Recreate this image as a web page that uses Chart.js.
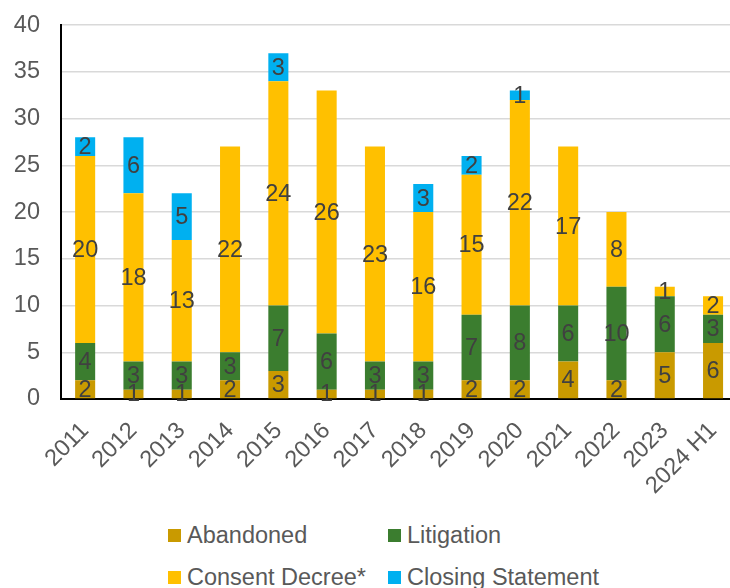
<!DOCTYPE html>
<html>
<head>
<meta charset="utf-8">
<script src="https://cdn.jsdelivr.net/npm/chart.js@4.4.1/dist/chart.umd.min.js"></script>
<style>
  html, body { margin: 0; padding: 0; background: #fff; overflow: hidden; }
  #wrap { position: relative; width: 730px; height: 588px; overflow: hidden; }
  #chart { position: absolute; left: 0; top: -10px; }
  #legend {
    position: absolute; left: 168px; top: 520px;
    display: grid; grid-template-columns: 220px auto; row-gap: 12px;
    font-family: "Liberation Sans", Arial, sans-serif; font-size: 23.5px; color: #595959;
  }
  .item { display: flex; align-items: center; height: 30px; white-space: nowrap; }
  .box { width: 13px; height: 13px; margin-right: 6px; }
</style>
</head>
<body>
<div id="wrap">
  <canvas id="chart" width="751" height="520"></canvas>
  <div id="legend"></div>
</div>
<script>
const years = ['2011', '2012', '2013', '2014', '2015', '2016', '2017', '2018', '2019', '2020', '2021', '2022', '2023', '2024 H1'];
const abandoned = [2, 1, 1, 2, 3, 1, 1, 1, 2, 2, 4, 2, 5, 6];
const litigation = [4, 3, 3, 3, 7, 6, 3, 3, 7, 8, 6, 10, 6, 3];
const consentDecree = [20, 18, 13, 22, 24, 26, 23, 16, 15, 22, 17, 8, 1, 2];
const closingStatement = [2, 6, 5, 0, 3, 0, 0, 3, 2, 1, 0, 0, 0, 0];
const yTicks = [0, 5, 10, 15, 20, 25, 30, 35, 40];

const FONT = '"Liberation Sans", Arial, sans-serif';
const FSIZE = 23.5;

// draws the value in the middle of each segment (skip zeros)
const segmentLabels = {
    id: 'segmentLabels',
    afterDatasetsDraw(chart) {
        const ctx = chart.ctx;
        ctx.save();
        ctx.font = FSIZE + 'px ' + FONT;
        ctx.fillStyle = '#404040';
        ctx.textAlign = 'center';
        ctx.textBaseline = 'middle';
        chart.data.datasets.forEach((ds, i) => {
            const meta = chart.getDatasetMeta(i);
            meta.data.forEach((bar, j) => {
                const v = ds.data[j];
                if (!v) return;
                const p = bar.getProps(['x', 'y', 'base'], true);
                ctx.fillText(String(v), p.x, (p.y + p.base) / 2 + 1);
            });
        });
        ctx.restore();
    }
};

const chart = new Chart(document.getElementById('chart'), {
    type: 'bar',
    data: {
        labels: years,
        datasets: [
            { label: 'Abandoned', data: abandoned, backgroundColor: '#c99a00' },
            { label: 'Litigation', data: litigation, backgroundColor: '#3b7d2f' },
            { label: 'Consent Decree*', data: consentDecree, backgroundColor: '#ffc000' },
            { label: 'Closing Statement', data: closingStatement, backgroundColor: '#00b0f0' }
        ]
    },
    options: {
        responsive: false,
        animation: false,
        layout: { padding: { top: 4, right: 0, left: 0, bottom: 0 } },
        datasets: { bar: { barPercentage: 0.415, categoryPercentage: 1 } },
        plugins: { legend: { display: false }, tooltip: { enabled: false } },
        scales: {
            x: {
                stacked: true,
                grid: { display: false, drawTicks: false },
                border: { color: '#000', width: 2 },
                ticks: { color: '#595959', font: { size: FSIZE, family: FONT }, minRotation: 45, maxRotation: 45, padding: 18 },
                afterFit: s => { s.height = 111; }
            },
            y: {
                stacked: true,
                min: 0, max: 40,
                afterBuildTicks: s => { s.ticks = yTicks.map(v => ({ value: v })); },
                grid: { color: '#d9d9d9', lineWidth: 1.5, drawTicks: false },
                border: { color: '#000', width: 2 },
                ticks: { color: '#595959', font: { size: FSIZE, family: FONT }, padding: 21 },
                afterFit: s => { s.width = 61; }
            }
        }
    },
    plugins: [segmentLabels]
});

// legend laid out in two aligned columns, built from the datasets
const legend = document.getElementById('legend');
chart.data.datasets.forEach(ds => {
    const item = document.createElement('div');
    item.className = 'item';
    const box = document.createElement('span');
    box.className = 'box';
    box.style.background = ds.backgroundColor;
    const txt = document.createElement('span');
    txt.textContent = ds.label;
    item.appendChild(box);
    item.appendChild(txt);
    legend.appendChild(item);
});
</script>
</body>
</html>
